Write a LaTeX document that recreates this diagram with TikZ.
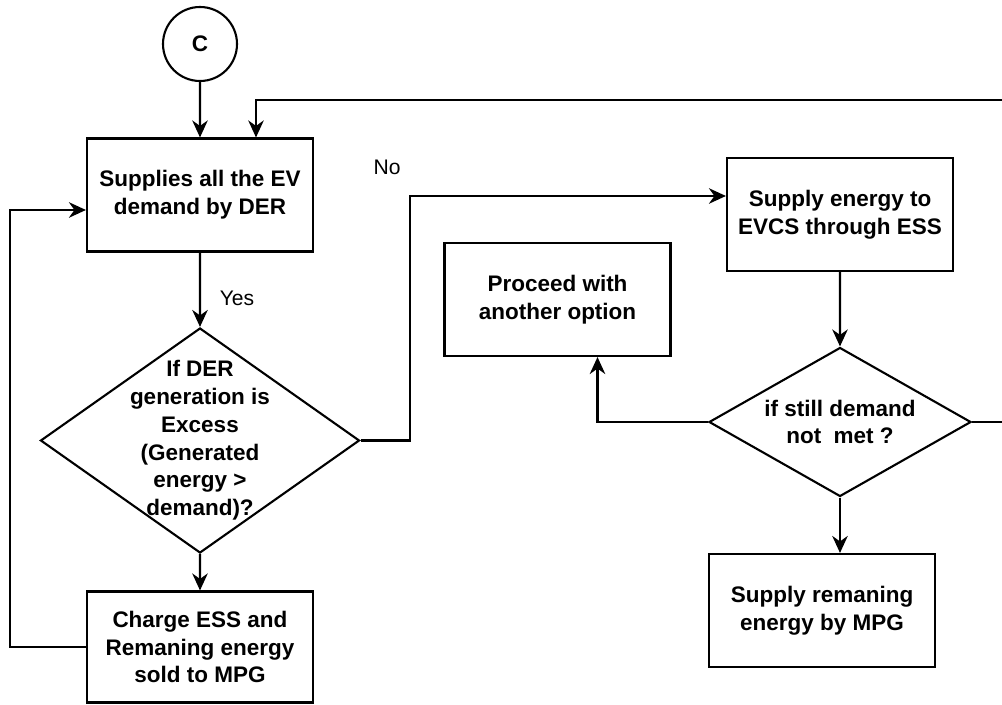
\documentclass[tikz,border=0pt]{standalone}
\usepackage{fontspec}
\setmainfont{Liberation Sans}
\usepackage{tikz}
\usetikzlibrary{positioning,shapes.geometric,arrows.meta}

\begin{document}
\begin{tikzpicture}[scale=0.2]
\tikzstyle{every node}+=[inner sep=0pt, align=center, font=\fontsize{12.8}{15.8}\selectfont\bfseries]
\tikzstyle{process}=[draw=black, line width=1.2pt, rectangle, minimum width=4.52cm, minimum height=2.26cm]
\tikzstyle{decision}=[draw=black, line width=1.2pt, diamond]
\tikzstyle{flow}=[draw=black, line width=1.2pt, -{Stealth[length=3.4mm,width=3.1mm,inset=1.1mm]}]
\tikzstyle{branch}=[font=\fontsize{12}{14}\selectfont]
\useasboundingbox (0,0) rectangle (100.2,-70.4);
\node [draw=black, line width=1.2pt, circle, minimum size=1.48cm] (conn) at (20,-4.4) {C};
\node [process] (supplyder) at (20,-19.5) {Supplies all the EV\\demand by DER};
\node [decision, minimum width=6.38cm, minimum height=4.5cm, label={[name=excesstext]center:If DER\\generation is\\Excess\\(Generated\\energy >\\demand)?}] (excess) at (20,-44.05) {};
\node [process, minimum height=2.22cm] (chargeess) at (20,-64.7) {Charge ESS and\\Remaning energy\\sold to MPG};
\node [process] (viaess) at (84,-21.45) {Supply energy to\\EVCS through ESS};
\node [decision, minimum width=5.24cm, minimum height=2.98cm, label={[name=stilltext]center:if still demand\\not\ \ met ?}] (stillneed) at (84,-42.2) {};
\node [process] (another) at (55.75,-29.95) {Proceed with\\another option};
\node [process] (bympg) at (82.2,-61.05) {Supply remaning\\energy by MPG};
\node [branch] (yes) at (23.7,-29.8) {Yes};
\node [branch] (no) at (38.7,-16.7) {No};
\draw [flow] (conn) -- (supplyder);
\draw [flow] (supplyder) -- (excess);
\draw [flow] (excess) -- (chargeess);
\draw [flow] (chargeess.west) -- ++(-7.6,0) |- ([yshift=-1.5cm]supplyder.west);
\draw [flow] (excess.east) -- ++(4.9,0) |- ([yshift=1.85cm]viaess.west);
\draw [flow] (viaess) -- (stillneed);
\draw [flow] (stillneed.west) -| ([xshift=4cm]another.south);
\draw [flow] (stillneed.south) -- (stillneed.south |- bympg.north);
\draw [flow] (stillneed.east) -- ++(3.5,0) |- ([xshift=5.6cm,yshift=3.7cm]supplyder.north) -- ([xshift=5.6cm]supplyder.north);
\end{tikzpicture}
\end{document}
